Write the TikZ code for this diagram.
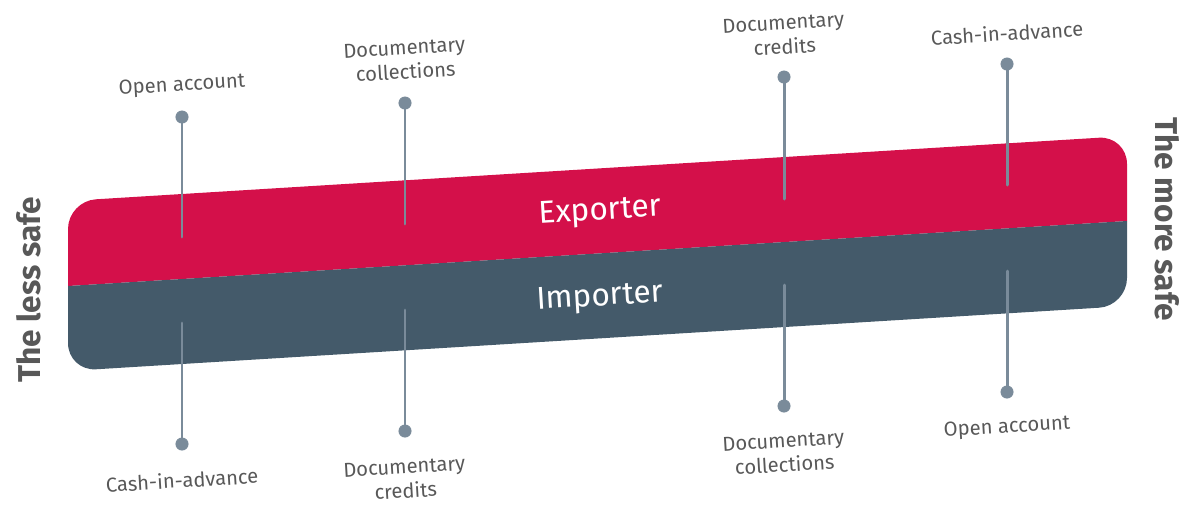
\documentclass[tikz,border=0pt]{standalone}
\usepackage{fontspec}
\setmainfont{Fira Sans}
\usepackage{tkz-euclide}
\usetikzlibrary{calc}
\definecolor{ExpClr}{RGB}{212,16,74}
\definecolor{ImpClr}{RGB}{68,90,106}
\definecolor{StemClr}{RGB}{122,139,154}
\definecolor{TxtClr}{RGB}{88,88,88}

\tikzset{lbl/.style={text=TxtClr,font=\fontsize{11.5}{13.8}\selectfont,align=center,rotate=3.5,inner sep=0pt},
  side/.style={text=TxtClr,font=\fontsize{18}{20}\selectfont\bfseries,inner sep=0pt},
  party/.style={text=white,font=\fontsize{18}{20}\selectfont,rotate=3.5,inner sep=0pt}}

\begin{document}
\begin{tikzpicture}[x=0.02cm,y=-0.02cm]
\useasboundingbox (0,0) rectangle (1193,505);
\tkzSetUpLine[line width=1.7pt,color=StemClr]
\tkzSetUpPoint[fill=StemClr,color=StemClr]

% corners of the band and its dividing line
\tkzDefPoints{68/201/TL,1127/136/TR,1127/306/BR,68/371/BL,68/286/ML,1127/221/MR}

% stems above (P dot, Q end) and below (R start, S dot)
\tkzDefPoints{182/117/P1,405/103/P2,784/77/P3,1007/64/P4}
\tkzDefPoints{182/237/Q1,405/224/Q2,784/199/Q3,1007/185/Q4}
\tkzDefPoints{182/323/R1,405/310/R2,784/285/R3,1007/271/R4}
\tkzDefPoints{182/444/S1,405/431/S2,784/406/S3,1007/392/S4}

\begin{scope}
\clip[rounded corners=0.56cm] (TL) -- (TR) -- (BR) -- (BL) -- cycle;
\tkzFillPolygon[fill=ExpClr](TL,TR,MR,ML)
\tkzFillPolygon[fill=ImpClr](ML,MR,BR,BL)
\end{scope}

\tkzDrawSegments(P1,Q1 P2,Q2 P3,Q3 P4,Q4 R1,S1 R2,S2 R3,S3 R4,S4)
\tkzDrawPoints[size=7](P1,P2,P3,P4,S1,S2,S3,S4)

\node[party] (exp) at (600,212) {Exporter};
\node[party] (imp) at (600,298) {Importer};

\node[side,rotate=90] (less) at (29,290) {The less safe};
\node[side,rotate=-90] (more) at (1167,219) {The more safe};

\node[lbl] (p1) at (182,86) {Open account};
\node[lbl] (p2) at (405,60) {Documentary\\collections};
\node[lbl] (p3) at (784,35) {Documentary\\credits};
\node[lbl] (p4) at (1007,33) {Cash-in-advance};

\node[lbl] (s1) at (182,480) {Cash-in-advance};
\node[lbl] (s2) at (405,479) {Documentary\\credits};
\node[lbl] (s3) at (784,453) {Documentary\\collections};
\node[lbl] (s4) at (1007,428) {Open account};

\end{tikzpicture}
\end{document}
